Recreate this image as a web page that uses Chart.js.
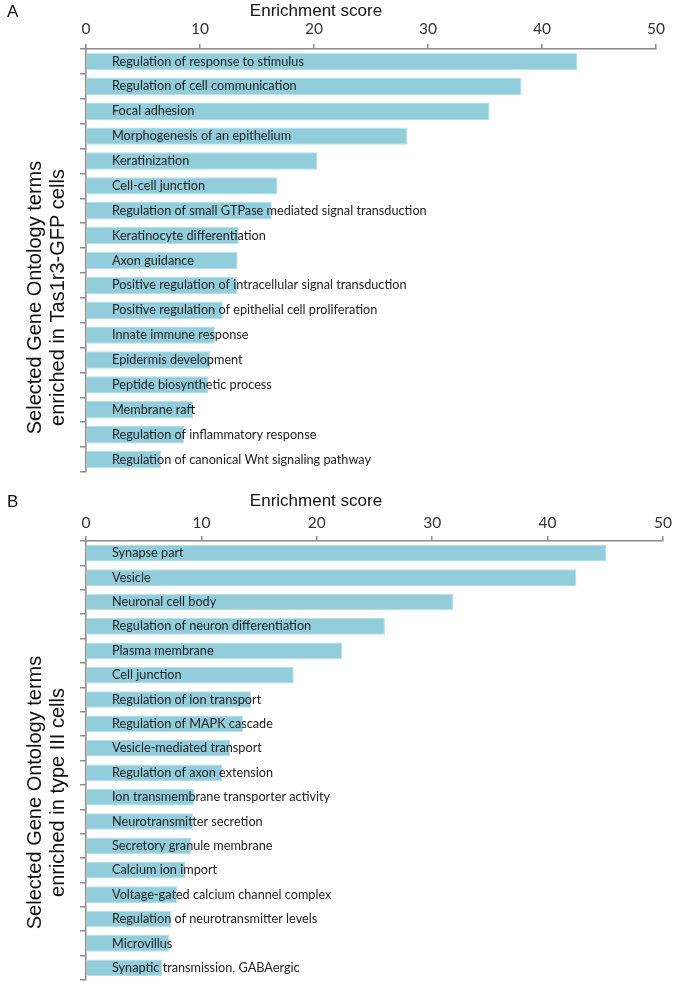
<!DOCTYPE html>
<html>
<head>
<meta charset="utf-8">
<script src="https://cdn.jsdelivr.net/npm/chart.js@4"></script>
<style>
  body { margin: 0; background: #fff; }
  .panel { position: absolute; left: 0; width: 675px; }
  #panelA { top: 0; height: 490px; }
  #panelB { top: 490px; height: 495px; }
</style>
</head>
<body>
<div class="panel" id="panelA"><canvas id="chartA"></canvas></div>
<div class="panel" id="panelB"><canvas id="chartB"></canvas></div>
<script>
const scoreTicks = [0, 10, 20, 30, 40, 50];
const xTitle = "Enrichment score";

const termsA = [
  "Regulation of response to stimulus",
  "Regulation of cell communication",
  "Focal adhesion",
  "Morphogenesis of an epithelium",
  "Keratinization",
  "Cell-cell junction",
  "Regulation of small GTPase mediated signal transduction",
  "Keratinocyte differentiation",
  "Axon guidance",
  "Positive regulation of intracellular signal transduction",
  "Positive regulation of epithelial cell proliferation",
  "Innate immune response",
  "Epidermis development",
  "Peptide biosynthetic process",
  "Membrane raft",
  "Regulation of inflammatory response",
  "Regulation of canonical Wnt signaling pathway"
];
const scoresA = [43.1, 38.2, 35.4, 28.2, 20.3, 16.8, 16.3, 13.4, 13.3, 13.3, 12.0, 11.3, 10.9, 10.7, 9.4, 8.6, 6.6];
const yTitleA = ["Selected Gene Ontology terms", "enriched in Tas1r3-GFP cells"];

const termsB = [
  "Synapse part",
  "Vesicle",
  "Neuronal cell body",
  "Regulation of neuron differentiation",
  "Plasma membrane",
  "Cell junction",
  "Regulation of ion transport",
  "Regulation of MAPK cascade",
  "Vesicle-mediated transport",
  "Regulation of axon extension",
  "Ion transmembrane transporter activity",
  "Neurotransmitter secretion",
  "Secretory granule membrane",
  "Calcium ion import",
  "Voltage-gated calcium channel complex",
  "Regulation of neurotransmitter levels",
  "Microvillus",
  "Synaptic transmission, GABAergic"
];
const scoresB = [45.1, 42.5, 31.8, 25.9, 22.2, 18.0, 14.3, 13.6, 12.5, 11.8, 9.4, 9.3, 9.1, 8.6, 7.9, 7.4, 7.2, 6.6];
const yTitleB = ["Selected Gene Ontology terms", "enriched in type III cells"];

// panel letter and axis titles, placed off-centre like in the figure
const panelText = {
  id: 'panelText',
  afterDraw(chart, args, opts) {
    const ctx = chart.ctx;
    const area = chart.chartArea;
    ctx.save();
    ctx.fillStyle = '#111';
    ctx.textBaseline = 'middle';
    ctx.font = '17px "Liberation Sans", Arial, sans-serif';
    ctx.textAlign = 'left';
    ctx.fillText(opts.letter, 7, 12);
    ctx.textAlign = 'center';
    ctx.fillText(opts.xTitle, 316, 11);
    ctx.font = '20px "Liberation Sans", Arial, sans-serif';
    ctx.translate(35, (area.top + area.bottom) / 2 + opts.yShift);
    ctx.rotate(-Math.PI / 2);
    ctx.fillText(opts.yTitle[0], 0, 0);
    ctx.fillText(opts.yTitle[1], 0, 23);
    ctx.restore();
  }
};

function makeChart(id, terms, scores, letter, yTitle, opt) {
  return new Chart(document.getElementById(id), {
    type: 'bar',
    data: {
      labels: terms,
      datasets: [{
        data: scores,
        backgroundColor: '#92cddc',
        borderColor: '#b7dee8',
        borderWidth: 1,
        barPercentage: opt.bar,
        categoryPercentage: 1
      }]
    },
    options: {
      indexAxis: 'y',
      responsive: true,
      maintainAspectRatio: false,
      animation: false,
      layout: { padding: { top: 0, left: 0, right: opt.right, bottom: opt.bottom } },
      plugins: {
        legend: { display: false },
        tooltip: { enabled: false },
        panelText: { letter: letter, xTitle: xTitle, yTitle: yTitle, yShift: opt.yShift }
      },
      scales: {
        x: {
          position: 'top',
          min: 0,
          max: 50,
          afterBuildTicks: s => { s.ticks = scoreTicks.map(v => ({ value: v })); },
          afterFit: s => { s.height = opt.top; s.paddingLeft = 0; s.paddingRight = 0; },
          grid: { drawOnChartArea: false, tickLength: 5, color: '#8c8c8c', lineWidth: 1.5 },
          border: { color: '#8c8c8c', width: 1.5 },
          ticks: {
            padding: opt.tickPad,
            maxRotation: 0,
            color: '#333',
            font: { family: 'Lato', size: 15.5 }
          }
        },
        y: {
          afterFit: s => { s.width = 86; s.paddingTop = 0; s.paddingBottom = 0; },
          grid: { drawOnChartArea: false, offset: true, tickLength: 6, color: '#8c8c8c', lineWidth: 1.5 },
          border: { color: '#8c8c8c', width: 1.5 },
          ticks: {
            z: 1,
            mirror: true,
            padding: 26,
            autoSkip: false,
            color: '#222',
            font: { family: 'Lato', size: 12.7 }
          }
        }
      }
    },
    plugins: [panelText]
  });
}

makeChart("chartA", termsA, scoresA, "A", yTitleA, { top: 49, right: 19, bottom: 18, bar: 0.7, tickPad: 6, yShift: 37 });
makeChart("chartB", termsB, scoresB, "B", yTitleB, { top: 51, right: 12, bottom: 5, bar: 0.68, tickPad: 4, yShift: 32 });
</script>
</body>
</html>
